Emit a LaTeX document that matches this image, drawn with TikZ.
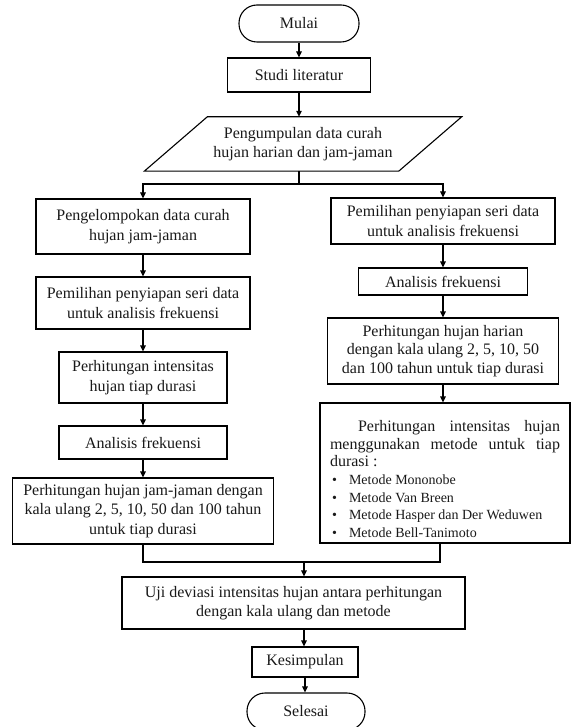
\documentclass[tikz,border=0pt]{standalone}
\usepackage{fontspec}
\setmainfont{Liberation Serif}
\usetikzlibrary{arrows.meta}
\newcommand{\blt}{\hspace*{2pt}\makebox[17pt][l]{\textbullet}}
\begin{document}
\begin{tikzpicture}[x=1pt,y=-1pt,
  every node/.style={font=\fontsize{16}{19.5}\selectfont, text=black!90},
  box/.style={draw, line width=1.1pt, minimum width=#1, inner sep=0pt, align=center},
  term/.style={box=#1, rounded corners=18pt},
  ln/.style={line width=1.1pt},
  arr/.style={line width=1.1pt, -{Triangle[length=6pt,width=5.5pt]}}
]
\useasboundingbox (0,0) rectangle (575,727);
% top
\node[term=120pt, minimum height=37pt] (mulai) at (299,23.5) {Mulai};
\node[box=143pt, minimum height=34pt] (studi) at (299,75) {Studi literatur};
\node[minimum width=254pt, minimum height=54pt, inner sep=0pt, align=center] (para) at (303,144)
  {Pengumpulan data curah\\hujan harian dan jam-jaman};
\draw[ln] ([xshift=31.5pt]para.north west) -- ([xshift=31.5pt]para.north east)
  -- ([xshift=-31.5pt]para.south east) -- ([xshift=-31.5pt]para.south west) -- cycle;
% left column
\node[box=214pt, minimum height=55pt] (l1) at (143,226.5) {Pengelompokan data curah\\hujan jam-jaman};
\node[box=214pt, minimum height=52pt] (l2) at (143,303) {Pemilihan penyiapan seri data\\untuk analisis frekuensi};
\node[box=168pt, minimum height=51pt] (l3) at (143,377.5) {Perhitungan intensitas\\hujan tiap durasi};
\node[box=168pt, minimum height=33pt] (l4) at (143,442.5) {Analisis frekuensi};
\node[box=261pt, minimum height=66pt] (l5) at (143,511) {Perhitungan hujan jam-jaman dengan\\kala ulang 2, 5, 10, 50 dan 100 tahun\\untuk tiap durasi};
% right column
\node[box=224pt, minimum height=46pt] (r1) at (443,221) {Pemilihan penyiapan seri data\\untuk analisis frekuensi};
\node[box=169pt, minimum height=27pt] (r2) at (443,281.5) {Analisis frekuensi};
\node[box=231pt, minimum height=66pt, font=\fontsize{16}{18.5}\selectfont] (r3) at (443,351) {Perhitungan hujan harian\\dengan kala ulang 2, 5, 10, 50\\dan 100 tahun untuk tiap durasi};
\node[box=250pt, minimum height=140pt, text width=230pt, align=justify,
  font=\fontsize{16}{17.7}\selectfont] (r4) at (445,473)
  {\hspace*{28pt}Perhitungan intensitas hujan menggunakan metode untuk tiap durasi~:\par
   {\fontsize{14}{17.7}\selectfont
   \blt Metode Mononobe\par
   \blt Metode Van Breen\par
   \blt Metode Hasper dan Der Weduwen\par
   \blt Metode Bell-Tanimoto\par}\vspace*{-12pt}};
% bottom
\node[box=343pt, minimum height=52pt] (uji) at (293.5,603) {Uji deviasi intensitas hujan antara perhitungan\\dengan kala ulang dan metode};
\node[box=106pt, minimum height=30pt] (kes) at (305,662) {Kesimpulan};
\node[term=118pt, minimum height=37pt] (sel) at (306,711.5) {Selesai};
% connectors
\coordinate (split) at (299,184);
\coordinate (merge) at (304,562);
\draw[arr] (mulai.south) -- (studi.south |- mulai.south) -- (studi.north);
\draw[arr] (studi.south) -- (studi.south |- para.north);
\draw[ln] (split |- para.south) -- (split);
\draw[arr] (split) -| (l1.north);
\draw[arr] (split) -| (r1.north);
\draw[arr] (l1.south) -- (l2.north);
\draw[arr] (l2.south) -- (l3.north);
\draw[arr] (l3.south) -- (l4.north);
\draw[arr] (l4.south) -- (l5.north);
\draw[arr] (r1.south) -- (r2.north);
\draw[arr] (r2.south) -- (r3.north);
\draw[arr] (r3.south) -- (r3.south |- r4.north);
\draw[ln] (l5.south) |- (merge);
\draw[ln] ([xshift=-5pt]r4.south) |- (merge);
\draw[arr] (merge) -- (merge |- uji.north);
\draw[arr] (merge |- uji.south) -- (merge |- kes.north);
\draw[arr] (kes.south) -- (kes.south |- sel.north);
\end{tikzpicture}
\end{document}
